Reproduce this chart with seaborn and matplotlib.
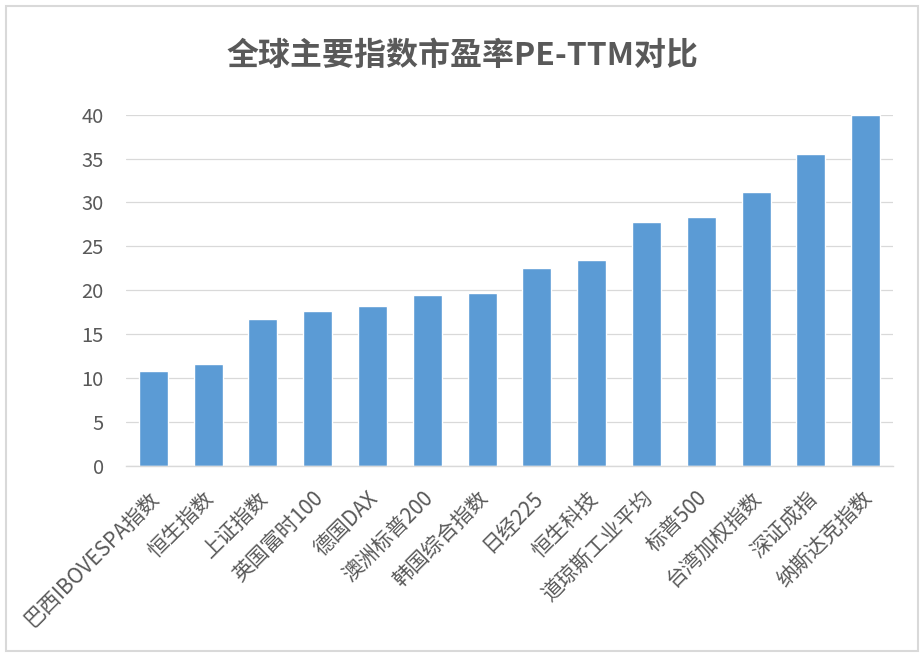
import matplotlib
matplotlib.use("Agg")
import matplotlib.pyplot as plt
import matplotlib.transforms as mtransforms
from matplotlib.patches import Rectangle
import seaborn as sns
import pandas as pd

categories = ["巴西IBOVESPA指数", "恒生指数", "上证指数", "英国富时100", "德国DAX",
              "澳洲标普200", "韩国综合指数", "日经225", "恒生科技", "道琼斯工业平均",
              "标普500", "台湾加权指数", "深证成指", "纳斯达克指数"]
pe_ttm = [10.8, 11.6, 16.7, 17.6, 18.2, 19.45, 19.7, 22.5, 23.45, 27.8, 28.35, 31.2, 35.5, 40.0]
y_ticks = [0, 5, 10, 15, 20, 25, 30, 35, 40]
title = "全球主要指数市盈率PE-TTM对比"

sns.set_theme(style="white")
plt.rcParams['font.family'] = ['Noto Sans CJK SC', 'DejaVu Sans']

df = pd.DataFrame({"name": categories, "pe": pe_ttm})

W, H = 924, 657
fig = plt.figure(figsize=(W / 100, H / 100), dpi=100)
fig.patch.set_facecolor("white")
ax = fig.add_axes([126 / W, 1 - 465.7 / H, (893 - 126) / W, (465.7 - 114.7) / H])

sns.barplot(data=df, x="name", y="pe", color="#5B9BD5", saturation=1, width=0.53, ax=ax, zorder=3)

ax.set_ylim(0, 40)
ax.set_xlim(-0.5, len(categories) - 0.5)
ax.set_yticks(y_ticks)
ax.set_yticklabels([str(t) for t in y_ticks])
ax.yaxis.grid(True, color="#D9D9D9", linewidth=0.9, zorder=0)
ax.set_axisbelow(True)
ax.set_xlabel("")
ax.set_ylabel("")
for s in ["top", "right", "left"]:
    ax.spines[s].set_visible(False)
ax.spines["bottom"].set_color("#D9D9D9")
ax.spines["bottom"].set_linewidth(1.0)
ax.spines["bottom"].set_zorder(4)

ax.tick_params(axis="y", length=0, pad=16, labelsize=14.5, labelcolor="#595959")
ax.tick_params(axis="x", length=0, pad=21, labelsize=15, labelcolor="#595959")
offset = mtransforms.ScaledTranslation(2 / 72, 0, fig.dpi_scale_trans)
for lbl in ax.get_xticklabels():
    lbl.set_rotation(45)
    lbl.set_ha("right")
    lbl.set_va("center")
    lbl.set_rotation_mode("anchor")
    lbl.set_transform(lbl.get_transform() + offset)

fig.text(462 / W, 1 - 56 / H, title, ha="center", va="center", fontsize=23,
         fontweight="bold", color="#595959")

fig.patches.append(Rectangle((6 / W, 6 / H), 912 / W, 645 / H, transform=fig.transFigure,
                             fill=False, edgecolor="#D9D9D9", linewidth=1.5))

fig.savefig("out.png", dpi=100, facecolor="white")
